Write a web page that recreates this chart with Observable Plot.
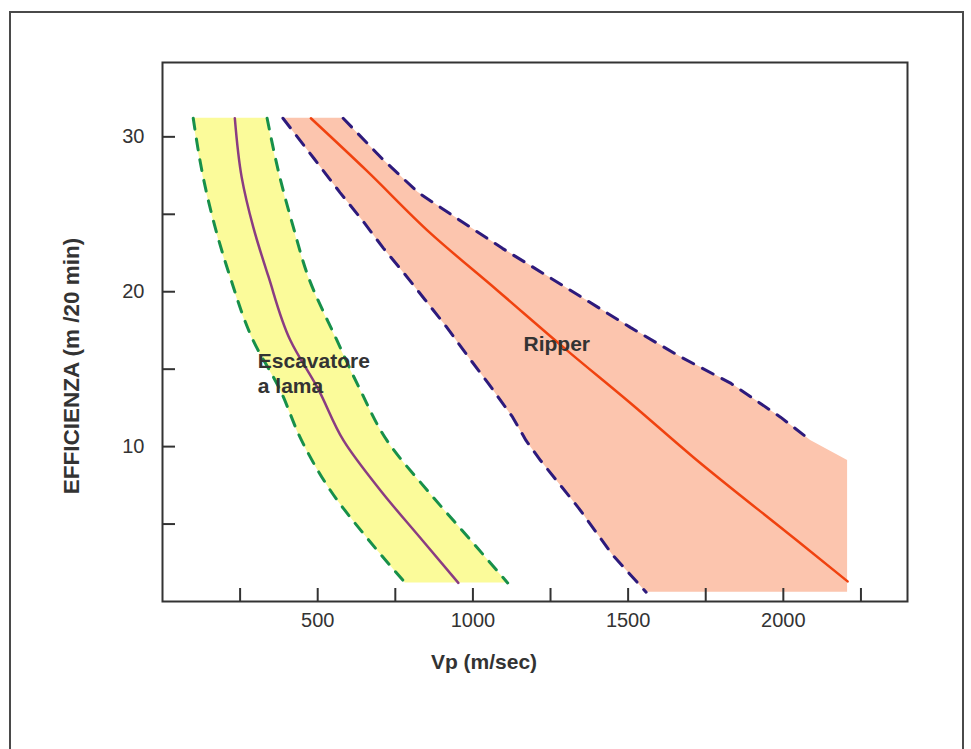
<!DOCTYPE html>
<html>
<head>
<meta charset="utf-8">
<script src="https://cdn.jsdelivr.net/npm/d3@7"></script>
<script src="https://cdn.jsdelivr.net/npm/@observablehq/plot@0.6"></script>
<style>
  html, body { margin: 0; padding: 0; background: #fff; overflow: hidden; }
  #wrap { position: relative; width: 971px; height: 749px; }
  #border { position: absolute; left: 9px; top: 11px; width: 955px; height: 800px; border: 2px solid #4a4a4a; box-sizing: border-box; }
  #chart { position: absolute; left: 0; top: 0; }
</style>
</head>
<body>
<div id="wrap"><div id="border"></div><div id="chart"></div></div>
<script>
// X axis ticks (Vp m/sec) and Y axis ticks (efficienza)
const xTicks = [250, 500, 750, 1000, 1250, 1500, 1750, 2000, 2250];
const xLabelTicks = [500, 1000, 1500, 2000];
const yTicks = [5, 10, 15, 20, 25, 30];
const yLabelTicks = [10, 20, 30];

// Escavatore a lama band
const escY      = [31.2, 27.4, 24.2, 21.0, 16.9, 13.7, 10.4, 7.2, 4.0, 1.2];
const escLeft   = [99, 131, 169, 217, 291, 378, 448, 540, 663, 782];
const escCenter = [233, 255, 292, 341, 411, 502, 583, 701, 835, 953];
const escRight  = [337, 378, 421, 469, 561, 636, 723, 852, 991, 1112];

// Ripper band
const ripY     = [31.2, 28.6, 26.4, 24.5, 22.8, 21.1, 19.5, 17.7, 15.8, 14.1, 11.9, 10.4, 9.1, 6.0, 3.0, 0.6];
const ripLeft  = [388, 488, 572, 648, 712, 782, 845, 916, 985, 1049, 1128, 1171, 1218, 1342, 1450, 1558];
const ripRight = [582, 707, 824, 966, 1095, 1233, 1362, 1507, 1668, 1830, 1991, 2088, 2207, 2207, 2207, 2207];
const ripDashedCount = 12; // upper dashed boundary stops at y = 10.4
const ripCenterY = [31.2, 27.85, 23.8, 20.1, 16.2, 12.8, 9.3, 4.0, 1.3];
const ripCenterX = [478, 656, 862, 1078, 1304, 1508, 1711, 2040, 2207];

const labels = [
  {text: "Escavatore\na lama", x: 307, y: 14.8},
  {text: "Ripper", x: 1163, y: 16.7}
];

const esc = escY.map((y, i) => ({y, l: escLeft[i], c: escCenter[i], r: escRight[i]}));
const rip = ripY.map((y, i) => ({y, l: ripLeft[i], r: ripRight[i]}));
const ripC = ripCenterY.map((y, i) => ({y, x: ripCenterX[i]}));

const FONT = "'Liberation Sans', Arial, Helvetica, sans-serif";

const chart = Plot.plot({
  width: 971,
  height: 749,
  marginLeft: 162,
  marginRight: 64,
  marginTop: 62,
  marginBottom: 148,
  style: {fontFamily: FONT, background: "transparent", color: "#333"},
  x: {domain: [0, 2400]},
  y: {domain: [0, 34.8]},
  marks: [
    Plot.areaX(esc, {y: "y", x1: "l", x2: "r", fill: "#fbfb9a", curve: "monotone-y"}),
    Plot.areaX(rip, {y: "y", x1: "l", x2: "r", fill: "#fcc5ae", curve: "linear"}),
    Plot.line(esc, {x: "l", y: "y", stroke: "#17904a", strokeWidth: 3, strokeDasharray: "11,10", curve: "monotone-y"}),
    Plot.line(esc, {x: "r", y: "y", stroke: "#17904a", strokeWidth: 3, strokeDasharray: "11,10", curve: "monotone-y"}),
    Plot.line(esc, {x: "c", y: "y", stroke: "#8a3c82", strokeWidth: 2.5, curve: "monotone-y"}),
    Plot.line(rip, {x: "l", y: "y", stroke: "#2d1a7c", strokeWidth: 3, strokeDasharray: "12,10", curve: "linear"}),
    Plot.line(rip.slice(0, ripDashedCount), {x: "r", y: "y", stroke: "#2d1a7c", strokeWidth: 3, strokeDasharray: "12,10", curve: "linear"}),
    Plot.line(ripC, {x: "x", y: "y", stroke: "#f0420f", strokeWidth: 2.5, curve: "monotone-y"}),
    Plot.text(labels, {x: "x", y: "y", text: "text", textAnchor: "start", lineAnchor: "middle", lineHeight: 1.2,
      fontSize: 21, fontWeight: "bold", fill: "#333"}),
    Plot.frame({stroke: "#333", strokeWidth: 2}),
    Plot.axisX(xTicks, {anchor: "bottom", tickSize: -13, tickPadding: 24, strokeWidth: 2, stroke: "#333",
      tickFormat: d => xLabelTicks.includes(d) ? String(d) : "", fontSize: 20, fill: "#333", label: null}),
    Plot.axisY(yTicks, {anchor: "left", tickSize: -13, tickPadding: 31, strokeWidth: 2, stroke: "#333",
      tickFormat: d => yLabelTicks.includes(d) ? String(d) : "", fontSize: 20, fill: "#333", label: null}),
    Plot.text(["Vp (m/sec)"], {frameAnchor: "bottom", textAnchor: "middle", dx: -51, dy: 67, fontSize: 21, fontWeight: "bold", fill: "#333"}),
    Plot.text(["EFFICIENZA (m /20 min)"], {frameAnchor: "left", textAnchor: "middle", rotate: -90, dx: -91, dy: 34, fontSize: 22.5, fontWeight: "bold", fill: "#333"})
  ]
});
document.getElementById("chart").appendChild(chart);
</script>
</body>
</html>
